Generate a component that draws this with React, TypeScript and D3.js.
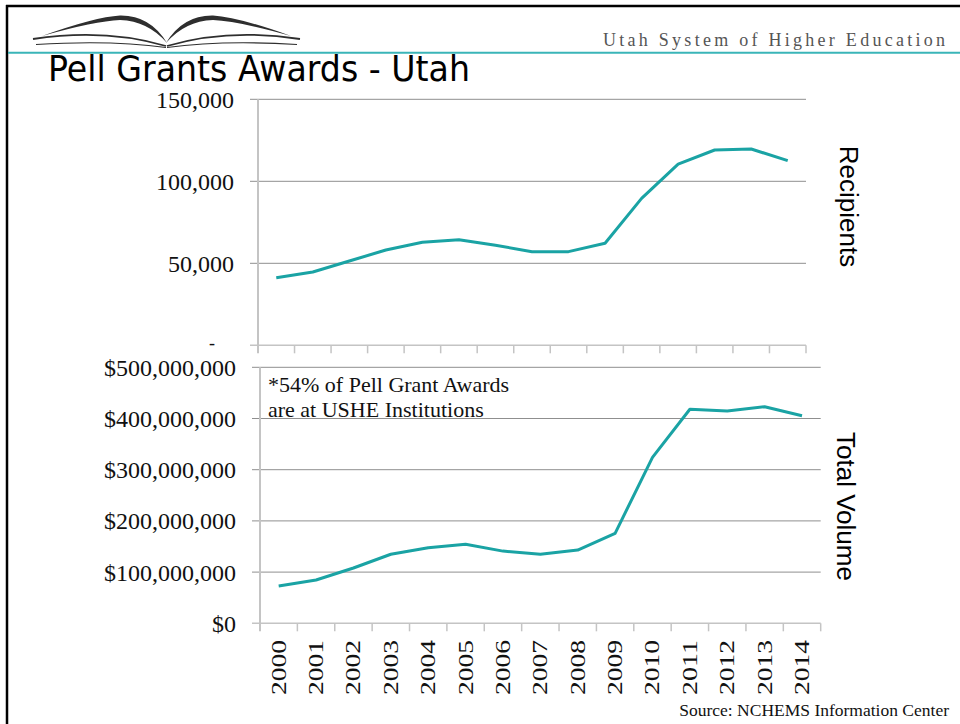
import React from "react";
import * as d3 from "d3";

const years = ["2000","2001","2002","2003","2004","2005","2006","2007","2008","2009","2010","2011","2012","2013","2014"];
const recipients = [41200, 44700, 51400, 58100, 62800, 64400, 61000, 57100, 57100, 62200, 89600, 110500, 119100, 119700, 112600];
const volume = [72900000, 84600000, 108000000, 134800000, 147700000, 154300000, 141000000, 134800000, 143000000, 175800000, 324000000, 418000000, 414600000, 423000000, 405500000];
const recipientTicks = [0, 50000, 100000, 150000];
const volumeTicks = [0, 100000000, 200000000, 300000000, 400000000, 500000000];

const TEAL = "#1aa3a4";
const GRID = "#8f8f8f";
const AXIS = "#c4c4c4";
const SERIF = "'Liberation Serif', 'Times New Roman', serif";
const SANS = "'Liberation Sans', Arial, sans-serif";

function Panel({ values, ticks, x0, x1, yTop, yBot, fmt, showX }: any) {
  const x = d3.scaleBand<string>().domain(years).range([x0, x1]).padding(0);
  const y = d3.scaleLinear().domain([0, ticks[ticks.length - 1]]).range([yBot, yTop]);
  const line = d3.line<number>().x((_, i) => (x(years[i]) as number) + x.bandwidth() / 2).y((d) => y(d));
  const bounds = years.map((yr) => x(yr) as number).concat([x1]);
  return (
    <g>
      {ticks.map((t: number) => {
        const isDash = t === 0 && !showX;
        return (
          <g key={t}>
            {t > 0 && <line x1={x0 - 8} x2={x1} y1={y(t)} y2={y(t)} stroke={GRID} strokeWidth={1} />}
            <text x={isDash ? 215 : x0 - 24} y={isDash ? y(t) + 4 : y(t)} dy={isDash ? "0" : "0.35em"} textAnchor="end" fontFamily={SERIF} fontSize={isDash ? 18 : 24} fill="#111">
              {fmt(t)}
            </text>
          </g>
        );
      })}
      <line x1={x0 - 8} x2={x1} y1={yBot} y2={yBot} stroke={AXIS} strokeWidth={1.5} />
      <line x1={x0} x2={x0} y1={yTop} y2={yBot + 8} stroke={AXIS} strokeWidth={2} />
      {bounds.slice(1).map((b, i) => (
        <line key={i} x1={b} x2={b} y1={yBot} y2={yBot + 8} stroke={AXIS} strokeWidth={1.5} />
      ))}
      <path d={line(values) as string} fill="none" stroke={TEAL} strokeWidth={3} strokeLinejoin="round" />
      {showX &&
        years.map((yr) => {
          const cx = (x(yr) as number) + x.bandwidth() / 2;
          return (
            <text key={yr} transform={`translate(${cx + 7},640) rotate(-90)`} textAnchor="end" fontFamily={SERIF} fontSize={21} textLength={55} lengthAdjust="spacingAndGlyphs" fill="#111">
              {yr}
            </text>
          );
        })}
    </g>
  );
}

function Wing() {
  return (
    <g fill="#2e2e2e" stroke="none">
      <path d="M 42,36 Q 95,17 120,15.5 Q 150,15 167,43 Q 148,21 120,20 Q 95,21 42,36 Z" />
      <path d="M 33,39 Q 105,28 166,46" fill="none" stroke="#2e2e2e" strokeWidth={1.8} />
      <path d="M 36,44.5 Q 112,40 166,47.5" fill="none" stroke="#2e2e2e" strokeWidth={1.1} />
    </g>
  );
}

export default function App() {
  const fmtR = (v: number) => (v === 0 ? "-" : d3.format(",")(v));
  const fmtV = (v: number) => "$" + d3.format(",")(v);
  return (
    <svg width={960} height={724} style={{ position: "absolute", left: 0, top: 0, background: "#fff" }}>
      <rect x={0} y={0} width={960} height={724} fill="#fff" />
      <line x1={6} x2={960} y1={6} y2={6} stroke="#000" strokeWidth={2.5} />
      <line x1={7} x2={7} y1={5} y2={724} stroke="#000" strokeWidth={2.5} />
      <line x1={8} x2={960} y1={52.7} y2={52.7} stroke="#3ab5b8" strokeWidth={2} />
      <Wing />
      <g transform="translate(333,0) scale(-1,1)">
        <Wing />
      </g>
      <text x={603} y={46} fontFamily={SERIF} fontSize={18} fill="#555" textLength={342} lengthAdjust="spacing">
        Utah System of Higher Education
      </text>
      <text x={48} y={81} fontFamily="'DejaVu Sans', Tahoma, sans-serif" fontSize={36} fill="#000" textLength={422} lengthAdjust="spacingAndGlyphs">
        Pell Grants Awards - Utah
      </text>
      <Panel values={recipients} ticks={recipientTicks} x0={258} x1={806} yTop={99.3} yBot={345.3} fmt={fmtR} showX={false} />
      <Panel values={volume} ticks={volumeTicks} x0={260} x1={820.7} yTop={367.3} yBot={623.3} fmt={fmtV} showX={true} />
      <text x={268} y={391.5} fontFamily={SERIF} fontSize={22} fill="#111">*54% of Pell Grant Awards</text>
      <text x={268} y={416.5} fontFamily={SERIF} fontSize={22} fill="#111">are at USHE Institutions</text>
      <text transform="translate(840,206.5) rotate(90)" textAnchor="middle" fontFamily={SANS} fontSize={26} fill="#000">Recipients</text>
      <text transform="translate(837,506.5) rotate(90)" textAnchor="middle" fontFamily={SANS} fontSize={26} fill="#000">Total Volume</text>
      <text x={949} y={716} textAnchor="end" fontFamily={SERIF} fontSize={17.5} fill="#111">Source: NCHEMS Information Center</text>
    </svg>
  );
}
